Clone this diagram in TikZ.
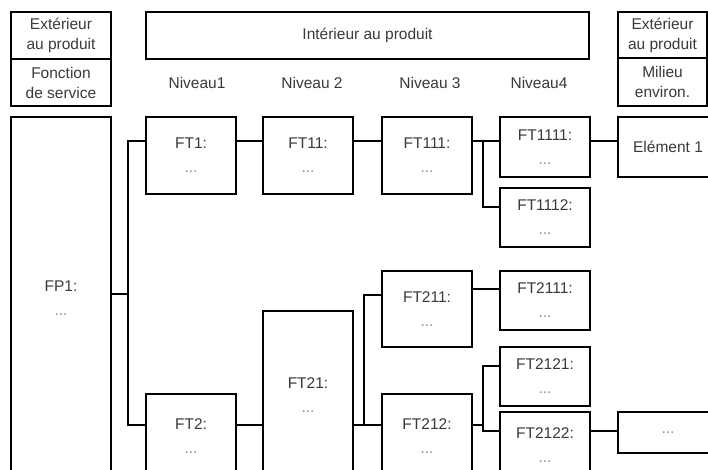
\documentclass[tikz,border=0pt]{standalone}
\usepackage{fontspec}
\setmainfont{Liberation Sans}
\usetikzlibrary{positioning}
\definecolor{BoxText}{HTML}{3A3A3A}
\definecolor{DotGray}{HTML}{8C8C8C}

% function text with its placeholder line
\newcommand{\fbody}[1]{#1\\{\color{DotGray}...}}

\begin{document}
\begin{tikzpicture}[
  x=1pt, y=-1pt,
  every node/.style={font=\fontsize{15.5}{20}\selectfont, text=BoxText},
  box/.style={draw, line width=1.6pt, align=center, inner sep=0pt, outer sep=0pt, anchor=north west},
  fbox/.style={box, minimum width=90pt, font=\fontsize{15.5}{24}\selectfont},
  lvl/.style={align=center},
  link/.style={line width=1.6pt}
]
  \useasboundingbox (0,0) rectangle (708,470);
  \fill[white] (0,0) rectangle (708,470);
  \clip (0,0) rectangle (708,470);

  % headers
  \node[box, minimum width=100pt, minimum height=47pt] (ext) at (11,12) {Extérieur\\au produit};
  \node[box, minimum width=100pt, minimum height=47pt, below=0pt of ext.south west, anchor=north west] (fs) {Fonction\\de service};
  \node[box, minimum width=443pt, minimum height=47pt] (int) at (146,12) {Intérieur au produit};
  \node[box, minimum width=89pt, minimum height=46pt] (extr) at (618,12) {Extérieur\\au produit};
  \node[box, minimum width=89pt, minimum height=48pt, below=0pt of extr.south west, anchor=north west] (env) {Milieu\\environ.};

  % functions
  \node[fbox, minimum width=100pt, minimum height=363pt] (fp1) at (11,117) {\fbody{FP1:}};
  \node[fbox, minimum height=77pt, right=35pt of fp1.north east, anchor=north west] (ft1) {\fbody{FT1:}};
  \node[fbox, minimum height=77pt, right=27pt of ft1.north east, anchor=north west] (ft11) {\fbody{FT11:}};
  \node[fbox, minimum height=77pt, right=29pt of ft11.north east, anchor=north west] (ft111) {\fbody{FT111:}};
  \node[fbox, minimum height=60pt, right=28pt of ft111.north east, anchor=north west] (ft1111) {\fbody{FT1111:}};
  \node[fbox, minimum height=59pt, below=11pt of ft1111.south west, anchor=north west] (ft1112) {\fbody{FT1112:}};
  \node[fbox, minimum width=100pt, minimum height=60pt, right=28pt of ft1111.north east, anchor=north west] (elem1) {Elément 1};

  \node[fbox, minimum height=85pt, below=200pt of ft1.south west, anchor=north west] (ft2) {\fbody{FT2:}};
  \node[fbox, minimum height=168pt, below=117pt of ft11.south west, anchor=north west] (ft21) {\fbody{FT21:}};
  \node[fbox, minimum height=76pt, below=77pt of ft111.south west, anchor=north west] (ft211) {\fbody{FT211:}};
  \node[fbox, minimum height=85pt, below=47pt of ft211.south west, anchor=north west] (ft212) {\fbody{FT212:}};
  \node[fbox, minimum height=59pt, below=24pt of ft1112.south west, anchor=north west] (ft2111) {\fbody{FT2111:}};
  \node[fbox, minimum height=59pt, below=17pt of ft2111.south west, anchor=north west] (ft2121) {\fbody{FT2121:}};
  \node[fbox, minimum height=67pt, below=6pt of ft2121.south west, anchor=north west] (ft2122) {\fbody{FT2122:}};
  \node[fbox, minimum width=100pt, minimum height=41pt, right=28pt of ft2122.north east, anchor=north west] (env2) {\color{DotGray}...};

  % levels
  \node[lvl, xshift=6pt] at (ft1 |- fs) {Niveau1};
  \node[lvl, xshift=4pt] at (ft11 |- fs) {Niveau 2};
  \node[lvl, xshift=3pt] at (ft111 |- fs) {Niveau 3};
  \node[lvl, xshift=-6pt] at (ft1111 |- fs) {Niveau4};

  % link levels and buses
  \coordinate (ra) at (0,141);
  \coordinate (rb) at (0,207);
  \coordinate (rc) at (0,289);
  \coordinate (rd) at (0,295);
  \coordinate (re) at (0,366);
  \coordinate (rf) at (0,425);
  \coordinate (rg) at (0,431);
  \coordinate (busfp) at (128,294);
  \coordinate (busft111) at (483,141);
  \coordinate (busft21) at (364,425);
  \coordinate (busft212) at (483,425);

  \draw[link] (fp1.east |- busfp) -- (busfp) |- (ft1.west |- ra);
  \draw[link] (busfp) |- (ft2.west |- rf);
  \draw[link] (ft1.east |- ra) -- (ft11.west |- ra);
  \draw[link] (ft11.east |- ra) -- (ft111.west |- ra);
  \draw[link] (ft111.east |- ra) -- (ft1111.west |- ra);
  \draw[link] (busft111) |- (ft1112.west |- rb);
  \draw[link] (ft1111.east |- ra) -- (elem1.west |- ra);

  \draw[link] (ft2.east |- rf) -- (ft21.west |- rf);
  \draw[link] (ft21.east |- rf) -- (ft212.west |- rf);
  \draw[link] (busft21) |- (ft211.west |- rd);
  \draw[link] (ft211.east |- rc) -- (ft2111.west |- rc);
  \draw[link] (ft212.east |- rf) -- (busft212);
  \draw[link] (ft2121.west |- re) -| (busft212) |- (ft2122.west |- rg);
  \draw[link] (ft2122.east |- rg) -- (env2.west |- rg);
\end{tikzpicture}
\end{document}
